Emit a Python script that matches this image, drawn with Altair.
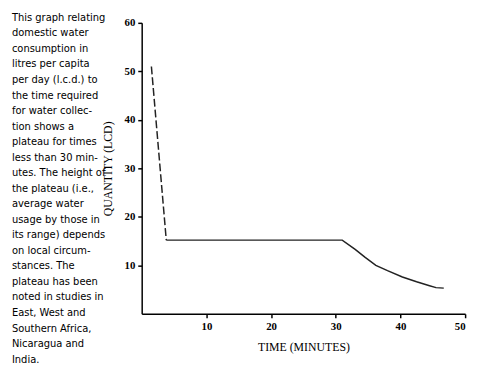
import altair as alt
import pandas as pd

# Steep initial drop (dashed)
drop_time = [1.5, 3.8]
drop_qty = [51.0, 15.2]

# Plateau and decline (solid)
main_time = [3.8, 31.0, 33.0, 34.5, 36.2, 38.0, 40.3, 42.5, 44.5, 45.5, 46.7]
main_qty = [15.2, 15.2, 13.3, 11.7, 10.0, 8.9, 7.6, 6.6, 5.8, 5.4, 5.3]

x_ticks = [10, 20, 30, 40, 50]
y_ticks = [10, 20, 30, 40, 50, 60]

note = ["This graph relating", "domestic water", "consumption in", "litres per capita",
        "per day (l.c.d.) to", "the time required", "for water collec-", "tion shows a",
        "plateau for times", "less than 30 min-", "utes. The height of", "the plateau (i.e.,",
        "average water", "usage by those in", "its range) depends", "on local circum-",
        "stances. The", "plateau has been", "noted in studies in", "East, West and",
        "Southern Africa,", "Nicaragua and", "India."]

drop_df = pd.DataFrame({"t": drop_time, "q": drop_qty})
main_df = pd.DataFrame({"t": main_time, "q": main_qty})

xs = alt.Scale(domain=[0, 50], nice=False, zero=False)
ys = alt.Scale(domain=[0, 60], nice=False, zero=False)

xax = alt.Axis(values=x_ticks, title="TIME (MINUTES)", grid=False, tickSize=4,
               labelFont="Liberation Serif", labelFontSize=11, labelFontWeight="bold",
               titleFont="Liberation Serif", titleFontSize=12, titleFontWeight="normal",
               titlePadding=10, labelPadding=3, domainColor="black", tickColor="black",
               domainWidth=1.5, tickWidth=1.5, labelColor="black", titleColor="black")
yax = alt.Axis(values=y_ticks, title="QUANTITY (LCD)", grid=False, tickSize=4,
               labelFont="Liberation Serif", labelFontSize=11, labelFontWeight="bold",
               titleFont="Liberation Serif", titleFontSize=12, titleFontWeight="normal",
               titlePadding=10, labelPadding=3, domainColor="black", tickColor="black",
               domainWidth=1.5, tickWidth=1.5, labelColor="black", titleColor="black")

drop = alt.Chart(drop_df).mark_line(color="#222", strokeWidth=1.5, strokeDash=[8, 3]).encode(
    x=alt.X("t:Q", scale=xs, axis=xax), y=alt.Y("q:Q", scale=ys, axis=yax))
main = alt.Chart(main_df).mark_line(color="#222", strokeWidth=1.5).encode(
    x=alt.X("t:Q", scale=xs), y=alt.Y("q:Q", scale=ys))

text = alt.Chart(pd.DataFrame({"txt": ["\n".join(note)]})).mark_text(
    align="left", baseline="alphabetic",
    font="'Liberation Sans Narrow', 'DejaVu Sans Condensed', 'Liberation Sans', sans-serif",
    fontSize=11.2, fontWeight="normal", lineHeight=15.8, color="black", lineBreak="\n").encode(
    x=alt.value(-132), y=alt.value(-2), text="txt:N")

chart = alt.layer(drop, main, text).properties(
    width=329, height=296,
    autosize=alt.AutoSizeParams(type="none"),
    padding={"left": 136, "top": 12, "right": 7, "bottom": 52},
).configure_view(stroke=None)

chart.save("out.html", embed_options={"renderer": "svg", "actions": False})
